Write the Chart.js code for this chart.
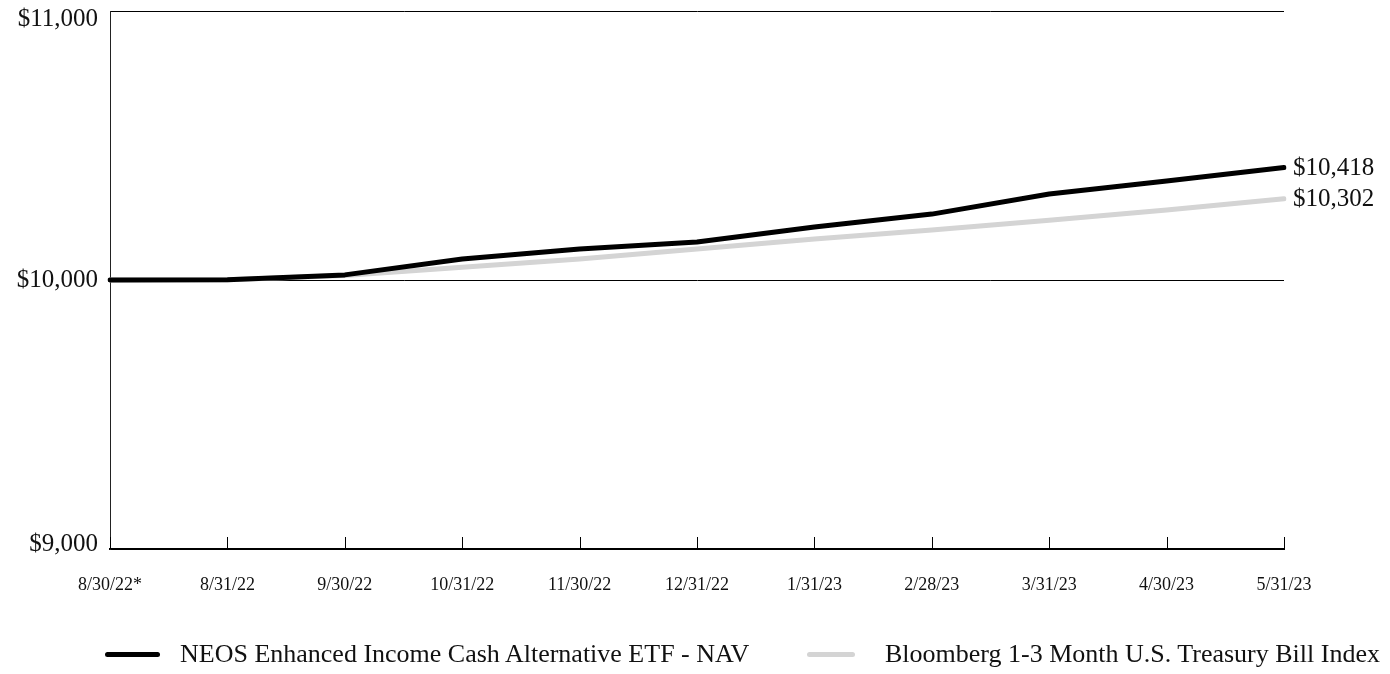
<!DOCTYPE html>
<html>
<head>
<meta charset="utf-8">
<script src="https://cdn.jsdelivr.net/npm/chart.js@4/dist/chart.umd.min.js"></script>
<style>
  html, body { margin: 0; padding: 0; background: #fff; }
  #wrap { position: relative; width: 1390px; height: 674px; }
  #chart { position: absolute; left: 0; top: 0; }
  .legend { position: absolute; top: 639px; height: 30px; display: flex; align-items: center;
            font-family: "Liberation Serif", "DejaVu Serif", serif; font-size: 26px; color: #111; white-space: nowrap; }
  .legend .swatch { display: inline-block; height: 5px; border-radius: 3px; }
</style>
</head>
<body>
<div id="wrap">
  <canvas id="chart" width="1390" height="674"></canvas>
  <div class="legend" style="left:105px"><span class="swatch" style="width:55px;background:#000;margin-right:20px"></span><span id="lg0"></span></div>
  <div class="legend" style="left:807px"><span class="swatch" style="width:48px;background:#d4d4d4;margin-right:30px"></span><span id="lg1"></span></div>
</div>
<script>
// Growth of a $10,000 investment
const categories = ['8/30/22*', '8/31/22', '9/30/22', '10/31/22', '11/30/22', '12/31/22',
                    '1/31/23', '2/28/23', '3/31/23', '4/30/23', '5/31/23'];
const fundName = 'NEOS Enhanced Income Cash Alternative ETF - NAV';
const indexName = 'Bloomberg 1-3 Month U.S. Treasury Bill Index';
const fundValues  = [10000, 10001, 10019, 10078, 10115, 10141, 10197, 10245, 10320, 10368, 10418];
const indexValues = [10000, 10001, 10017, 10047, 10078, 10115, 10152, 10186, 10222, 10260, 10302];
const yTicks = [9000, 10000, 11000];

const SERIF = '"Liberation Serif", "DejaVu Serif", serif';
const money = v => '$' + v.toLocaleString('en-US');

document.getElementById('lg0').textContent = fundName;
document.getElementById('lg1').textContent = indexName;

// Y labels, inward x ticks and end-of-line value labels
const decorations = {
  id: 'decorations',
  afterDraw(chart) {
    const { ctx, chartArea, scales } = chart;
    const x = scales.x, y = scales.y;
    ctx.save();
    // tick marks rising from the x axis
    ctx.strokeStyle = '#000';
    ctx.lineWidth = 1;
    categories.forEach((c, i) => {
      const px = Math.round(x.getPixelForValue(i)) + 0.5;
      ctx.beginPath();
      ctx.moveTo(px, chartArea.bottom);
      ctx.lineTo(px, chartArea.bottom - 12);
      ctx.stroke();
    });
    // y axis labels
    ctx.fillStyle = '#111';
    ctx.font = '25px ' + SERIF;
    ctx.textAlign = 'right';
    ctx.textBaseline = 'middle';
    yTicks.forEach(v => {
      let py = y.getPixelForValue(v);
      if (v === yTicks[yTicks.length - 1]) py += 8;
      if (v === yTicks[0]) py -= 5;
      ctx.fillText(money(v), chartArea.left - 12, py);
    });
    // final values at the line ends
    ctx.textAlign = 'left';
    chart.data.datasets.forEach((ds, di) => {
      const meta = chart.getDatasetMeta(di);
      const last = meta.data[meta.data.length - 1];
      const val = ds.data[ds.data.length - 1];
      ctx.fillText(money(val), last.x + 9, last.y + 1);
    });
    ctx.restore();
  }
};

new Chart(document.getElementById('chart'), {
  type: 'line',
  data: {
    labels: categories,
    datasets: [
      { label: fundName, data: fundValues, borderColor: '#000', borderWidth: 5,
        pointRadius: 0, tension: 0, borderCapStyle: 'round', borderJoinStyle: 'round' },
      { label: indexName, data: indexValues, borderColor: '#d4d4d4', borderWidth: 5,
        pointRadius: 0, tension: 0, borderCapStyle: 'round', borderJoinStyle: 'round' }
    ]
  },
  options: {
    responsive: false,
    animation: false,
    devicePixelRatio: 1,
    layout: { padding: { top: 11, right: 106, left: 0, bottom: 0 } },
    plugins: { legend: { display: false }, tooltip: { enabled: false } },
    scales: {
      x: {
        offset: false,
        grid: { display: false, drawTicks: false },
        border: { display: true, color: '#000', width: 2 },
        ticks: { font: { family: SERIF, size: 18 }, color: '#111', padding: 25, maxRotation: 0, autoSkip: false },
        afterFit(scale) { scale.height = 125; }
      },
      y: {
        min: 9000, max: 11000,
        afterBuildTicks(scale) { scale.ticks = yTicks.map(v => ({ value: v })); },
        grid: { color: '#000', lineWidth: 1, drawTicks: false },
        border: { display: true, color: '#222', width: 1 },
        ticks: { display: false },
        afterFit(scale) { scale.width = 110; }
      }
    }
  },
  plugins: [decorations]
});
</script>
</body>
</html>
